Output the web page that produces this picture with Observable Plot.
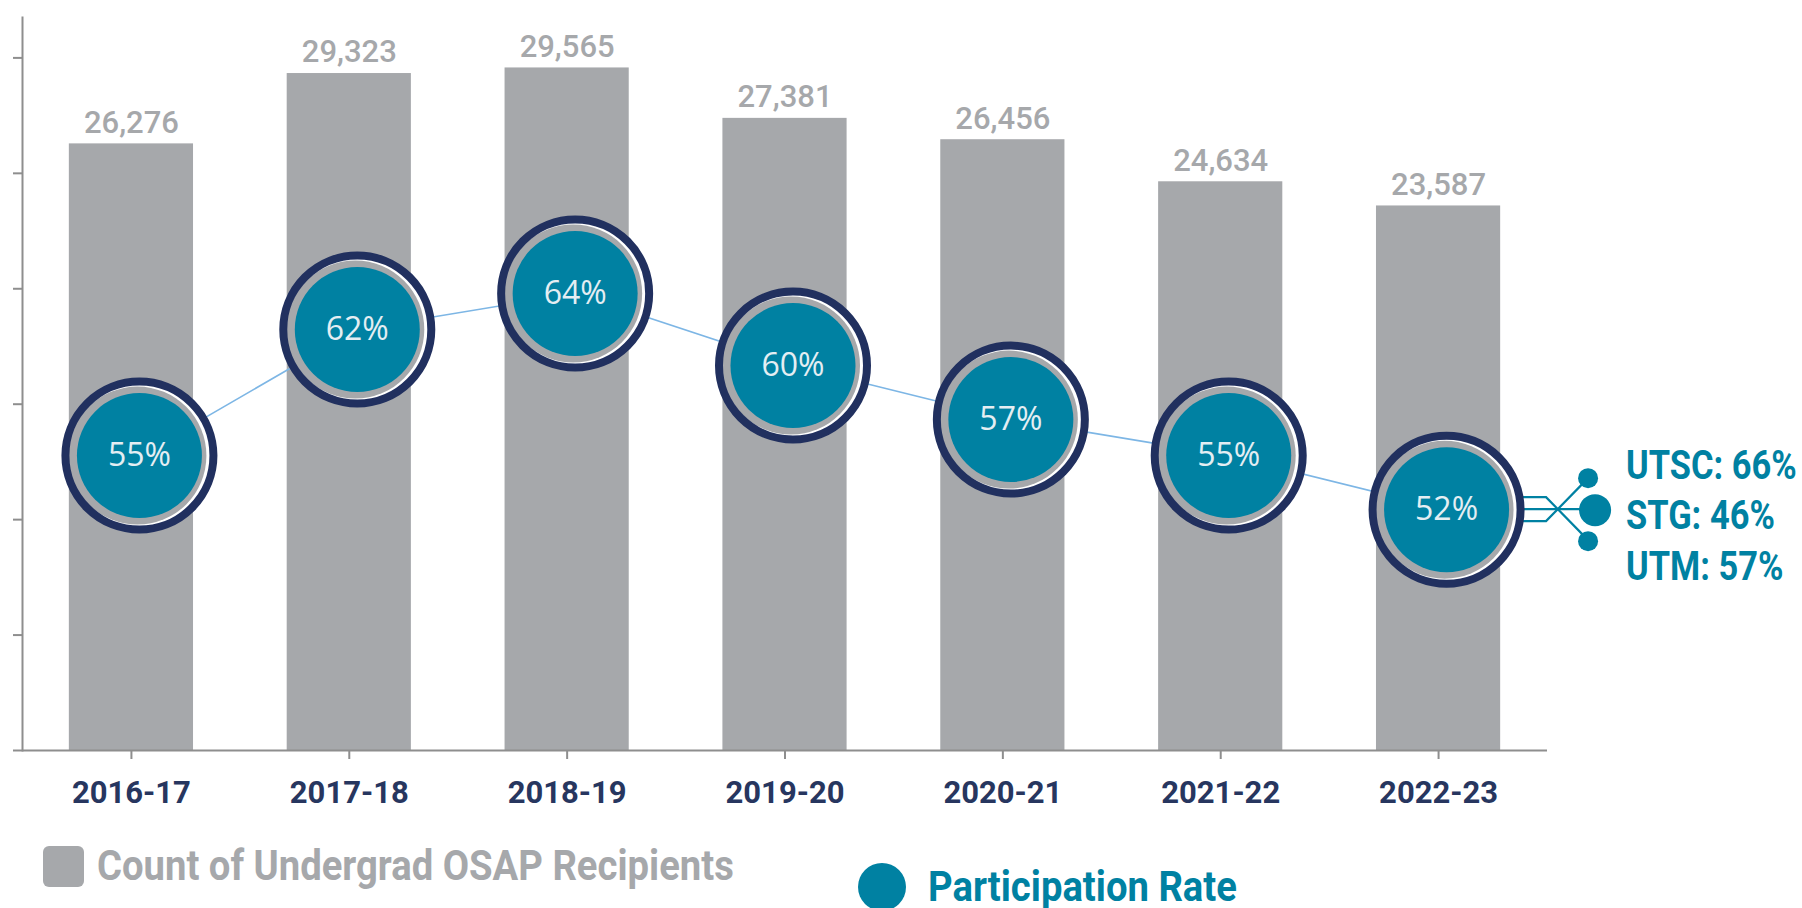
<!DOCTYPE html>
<html>
<head>
<meta charset="utf-8">
<script src="https://cdn.jsdelivr.net/npm/d3@7"></script>
<script src="https://cdn.jsdelivr.net/npm/@observablehq/plot@0.6"></script>
<style>
  html, body { margin: 0; padding: 0; background: #ffffff; }
  #chart { position: relative; width: 1802px; height: 830px; }
  #chart svg { position: absolute; left: 0; top: 0; }
  #legend { position: relative; width: 1802px; height: 78px; }
  #legend .item { position: absolute; display: flex; align-items: center; }
  #legend .lbl { display: inline-block; font-family: Roboto, sans-serif; font-weight: bold; font-size: 42px; line-height: 48px; white-space: nowrap; transform: scaleX(0.91); transform-origin: left center; }
  #legend .sq { width: 41px; height: 41px; border-radius: 6px; background: #a6a8ab; margin-right: 13px; }
  #legend .dt { width: 48px; height: 48px; border-radius: 50%; background: #0081a2; margin-right: 22px; }
</style>
</head>
<body>
<div id="chart"></div>
<div id="legend">
  <div class="item" style="left:43px;top:12px"><span class="sq"></span><span class="lbl" style="color:#a6a8ab">Count of Undergrad OSAP Recipients</span></div>
  <div class="item" style="left:858px;top:33px"><span class="dt"></span><span class="lbl" style="color:#0081a2">Participation Rate</span></div>
</div>
<script>
// ---- data ----
const years = ["2016-17", "2017-18", "2018-19", "2019-20", "2020-21", "2021-22", "2022-23"];
const recipients = [26276, 29323, 29565, 27381, 26456, 24634, 23587];
const participation = [55, 62, 64, 60, 57, 55, 52];
const campuses = ["UTSC", "STG", "UTM"];
const campusRates = [66, 46, 57];
const yTicks = [0, 5000, 10000, 15000, 20000, 25000, 30000];

const rows = years.map((year, i) => ({year, count: recipients[i], rate: participation[i]}));

// ---- styles ----
const GRAY = "#a6a8ab";
const AXIS = "#8e8e8e";
const TEAL = "#0081a2";
const NAVY = "#21305f";
const LINE = "#7db6e5";
const LABEL_NAVY = "#27365f";
const CIRCLE_DX = 8;

const W = 1802, H = 830;
const margins = {marginLeft: 22, marginRight: 255, marginTop: 17, marginBottom: 80};
const xScale = {domain: years, paddingInner: 0.43, paddingOuter: 0.215, round: false, label: null};

// ---- bars plot ----
const bars = Plot.plot({
  width: W, height: H, ...margins,
  style: {background: "white", overflow: "visible"},
  x: xScale,
  y: {domain: [0, 31750], label: null},
  marks: [
    Plot.barY(rows, {x: "year", y: "count", fill: GRAY}),
    Plot.frame({anchor: "left", stroke: AXIS, strokeWidth: 2}),
    Plot.ruleY([0], {stroke: AXIS, strokeWidth: 2}),
    Plot.axisY({ticks: yTicks, tickSize: 9, tickFormat: () => "", stroke: AXIS, strokeWidth: 2, label: null}),
    Plot.axisX({tickSize: 9, tickFormat: () => "", stroke: AXIS, strokeWidth: 2, label: null}),
    Plot.axisX({tickSize: 0, tickPadding: 30, fontSize: 31, fontWeight: "bold", fontFamily: "Roboto, sans-serif", fill: LABEL_NAVY, label: null}),
    Plot.text(rows, {x: "year", y: "count", text: d => d3.format(",")(d.count), dy: -21, lineAnchor: "middle",
      fontSize: 31, fontWeight: 500, fontFamily: "Roboto, sans-serif", fill: GRAY})
  ]
});

// ---- annotation for last year's campus breakdown ----
function campusBranch(index, scales) {
  const last = rows[rows.length - 1];
  const bw = typeof scales.x.bandwidth === "function" ? scales.x.bandwidth() : 0;
  const cx = scales.x(last.year) + bw / 2 + CIRCLE_DX;
  const cy = scales.y(last.rate);
  const g = d3.create("svg:g");
  const paths = [
    `M${cx + 60},${cy - 12}H${cx + 100}L${cx + 142},${cy + 31}`,
    `M${cx + 60},${cy}H${cx + 149}`,
    `M${cx + 60},${cy + 12}H${cx + 100}L${cx + 142},${cy - 31}`
  ];
  g.selectAll("path").data(paths).join("path")
    .attr("d", d => d).attr("fill", "none").attr("stroke", TEAL).attr("stroke-width", 2.2);
  const dots = [
    {dx: 142, dy: -31, r: 10},
    {dx: 149, dy: 1, r: 16},
    {dx: 142, dy: 32, r: 10}
  ];
  g.selectAll("circle").data(dots).join("circle")
    .attr("cx", d => cx + d.dx).attr("cy", d => cy + d.dy).attr("r", d => d.r).attr("fill", TEAL);
  const labelDy = [-45, 5, 56];
  g.selectAll("text").data(campuses).join("text")
    .attr("transform", (d, i) => `translate(${cx + 180},${cy + labelDy[i]}) scale(0.84,1)`)
    .attr("dy", "0.36em")
    .attr("text-anchor", "start")
    .attr("fill", TEAL)
    .attr("font-family", "Roboto, sans-serif")
    .attr("font-weight", "bold")
    .attr("font-size", 41)
    .text((d, i) => `${d}: ${campusRates[i]}%`);
  return g.node();
}

// ---- participation overlay ----
const rates = Plot.plot({
  width: W, height: H, ...margins,
  style: {background: "transparent", overflow: "visible"},
  x: {...xScale, axis: null},
  y: {domain: [40, 70], range: [725.3, 184.9], axis: null},
  marks: [
    Plot.line(rows, {x: "year", y: "rate", dx: CIRCLE_DX, stroke: LINE, strokeWidth: 1.6}),
    campusBranch,
    Plot.dot(rows, {x: "year", y: "rate", dx: CIRCLE_DX, r: 74, fill: "white", stroke: "none"}),
    Plot.dot(rows, {x: "year", y: "rate", dx: CIRCLE_DX - 2, r: 69, fill: GRAY, stroke: "none"}),
    Plot.dot(rows, {x: "year", y: "rate", dx: CIRCLE_DX, r: 62.5, fill: TEAL, stroke: "none"}),
    Plot.dot(rows, {x: "year", y: "rate", dx: CIRCLE_DX, r: 74, fill: "none", stroke: NAVY, strokeWidth: 8}),
    Plot.text(rows, {x: "year", y: "rate", dx: CIRCLE_DX, text: d => `${d.rate}%`, fontSize: 32,
      fontFamily: "'Open Sans', sans-serif", fill: "#e4eef3", lineAnchor: "middle"})
  ]
});

const chart = document.getElementById("chart");
chart.appendChild(bars);
chart.appendChild(rates);
</script>
</body>
</html>
